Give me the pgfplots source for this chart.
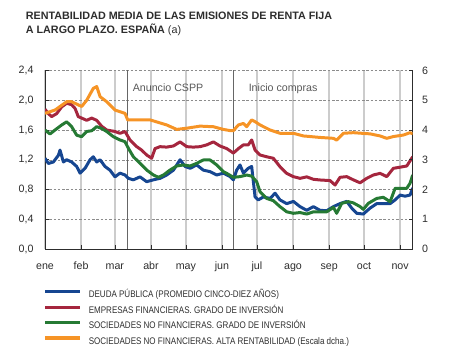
\documentclass[border=0pt]{standalone}
\usepackage{pgfplots}
\pgfplotsset{compat=1.18}
\usepackage{fontspec}
\setmainfont{Liberation Sans}
\newfontfamily\legfont[FakeStretch=0.84]{Liberation Sans}
\definecolor{cblue}{RGB}{22,70,145}
\definecolor{cred}{RGB}{165,38,62}
\definecolor{cgreen}{RGB}{38,122,52}
\definecolor{corange}{RGB}{246,148,38}
\definecolor{txt}{RGB}{45,45,45}
\begin{document}
\begin{tikzpicture}
\path[use as bounding box] (0,0) rectangle (450bp,352bp);
% title
\node[anchor=base west, inner sep=0pt, text=txt, font=\bfseries\fontsize{10.8}{13}\selectfont] at (25.7bp,332.5bp) {RENTABILIDAD MEDIA DE LAS EMISIONES DE RENTA FIJA};
\node[anchor=base west, inner sep=0pt, text=txt, font=\fontsize{10.8}{13}\selectfont] at (25.7bp,318bp) {\textbf{A LARGO PLAZO. ESPAÑA} (a)};
\pgfplotsset{
  common/.style={
    at={(45bp,103bp)}, anchor=south west, scale only axis,
    width=367.7bp, height=178.5bp,
    xmin=0, xmax=315.8,
    tick align=inside, major tick length=3.5bp,
    every tick/.style={txt, line width=0.6pt},
    axis line style={txt, line width=0.8pt},
    tick label style={font=\fontsize{10.7}{12}\selectfont, text=txt},
    /pgf/number format/assume math mode=true,
  }
}
\begin{axis}[common,
  ymin=0, ymax=2.4,
  axis x line*=bottom, axis y line*=left,
  xtick={0,31,60,91,121,152,182,213,244,274,305},
  xticklabels={ene,feb,mar,abr,may,jun,jul,ago,sep,oct,nov},
  xticklabel style={anchor=base, yshift=-20.7bp},
  ytick={0,0.4,0.8,1.2,1.6,2.0,2.4},
  yticklabel style={xshift=-8bp, /pgf/number format/.cd, use comma, fixed, fixed zerofill, precision=1},
  xmajorgrids, ymajorgrids,
  x grid style={black!20, line width=1.3pt},
  y grid style={black!45, line width=0.5pt, dash pattern=on 2.5pt off 1.8pt},
  legend style={at={(axis description cs:-0.0046,-0.225)}, anchor=north west, draw=none, fill=none,
    font=\legfont\fontsize{9.6}{10}\selectfont, text=txt, inner sep=0pt, column sep=6bp, row sep=4.0bp,
    nodes={inner sep=1pt, text height=7.5pt, text depth=2pt}},
  legend cell align=left,
  legend image code/.code={\draw[#1, line width=3.3pt] (0bp,3.4bp) -- (35bp,3.4bp);},
]
\draw[black!60, line width=0.7pt] (axis cs:71.0,0) -- (axis cs:71.0,2.4);
\draw[black!60, line width=0.7pt] (axis cs:161.8,0) -- (axis cs:161.8,2.4);
\node[text=black!65, font=\fontsize{10.7}{12}\selectfont] at (axis cs:105.7,2.165) {Anuncio CSPP};
\node[text=black!65, font=\fontsize{10.7}{12}\selectfont] at (axis cs:204.5,2.15) {Inicio compras};
\node[text=txt, font=\fontsize{10}{12}\selectfont] at (axis description cs:0.003,1.076) {\%};
\node[text=txt, font=\fontsize{10}{12}\selectfont] at (axis description cs:0.979,1.076) {\%};
\addplot[cblue, line width=3pt, line join=round] coordinates {
(0,1.22)(2.9,1.15)(7.2,1.17)(11.5,1.26)(12.9,1.33)(15.8,1.17)(18.6,1.20)(22.9,1.17)(27.2,1.11)(30.1,1.02)(34.4,1.085)(38.7,1.20)(41.5,1.24)(44.4,1.17)(47.3,1.20)(51.5,1.11)(55.8,1.06)(60.1,0.97)(64.4,1.02)(68.7,0.995)(71.6,0.95)(75.9,0.93)(81.6,0.97)(87.3,0.905)(93.1,0.93)(98.8,0.95)(104.5,0.995)(110.3,1.06)(116.0,1.20)(120.3,1.11)(124.6,1.085)(130.3,1.13)(136.0,1.06)(141.8,1.04)(147.5,0.995)(153.2,1.02)(158.9,0.975)(161.8,0.93)(164.6,1.06)(167.5,1.13)(170.4,1.02)(174.6,1.085)(177.5,1.11)(180.4,0.70)(183.2,0.66)(187.5,0.70)(193.3,0.68)(197.6,0.75)(201.8,0.66)(207.6,0.61)(213.3,0.64)(219.0,0.57)(224.8,0.52)(230.5,0.57)(236.2,0.52)(242.0,0.515)(247.7,0.57)(253.4,0.61)(259.1,0.64)(263.4,0.55)(267.7,0.48)(273.4,0.47)(279.2,0.55)(284.9,0.61)(290.6,0.61)(296.4,0.61)(300.7,0.66)(305.0,0.725)(309.2,0.71)(313.5,0.725)(315.8,0.82)
};
\addlegendentry{DEUDA PÚBLICA (PROMEDIO CINCO-DIEZ AÑOS)}
\addplot[cred, line width=3pt, line join=round] coordinates {
(0,1.88)(2.9,1.82)(5.7,1.78)(10.0,1.82)(14.3,1.91)(18.6,1.96)(22.9,1.94)(25.8,1.89)(28.6,1.78)(31.5,1.76)(35.8,1.73)(40.1,1.76)(44.4,1.73)(48.7,1.65)(53.0,1.60)(60.1,1.58)(64.4,1.555)(68.7,1.58)(73.0,1.466)(78.8,1.376)(83.0,1.33)(87.3,1.264)(91.6,1.22)(94.5,1.35)(98.8,1.376)(104.5,1.37)(110.3,1.385)(116.0,1.44)(121.7,1.376)(127.4,1.37)(133.2,1.376)(138.9,1.40)(144.6,1.44)(150.3,1.385)(156.1,1.35)(161.8,1.29)(166.1,1.35)(170.4,1.40)(174.6,1.40)(177.5,1.466)(180.4,1.33)(184.7,1.264)(190.4,1.24)(196.1,1.22)(201.8,1.107)(207.6,1.017)(213.3,0.973)(219.0,0.95)(224.8,0.97)(230.5,0.937)(236.2,0.928)(244.8,0.92)(249.1,0.86)(253.4,0.964)(259.1,0.973)(264.8,0.93)(270.6,0.89)(276.3,0.95)(282.0,0.995)(287.8,1.017)(293.5,0.973)(299.2,1.085)(305.0,1.10)(310.7,1.116)(315.8,1.24)
};
\addlegendentry{EMPRESAS FINANCIERAS. GRADO DE INVERSIÓN}
\addplot[cgreen, line width=3pt, line join=round] coordinates {
(0,1.60)(4.3,1.546)(8.6,1.60)(14.3,1.667)(18.6,1.71)(22.9,1.645)(27.2,1.53)(31.5,1.51)(35.8,1.58)(40.1,1.59)(44.4,1.645)(48.7,1.62)(53.0,1.58)(58.7,1.51)(64.4,1.466)(68.7,1.443)(71.6,1.354)(75.9,1.24)(81.6,1.152)(87.3,1.062)(93.1,0.995)(97.4,0.964)(101.7,0.995)(107.4,1.062)(113.1,1.116)(118.8,1.13)(124.6,1.116)(130.3,1.152)(136.0,1.197)(141.8,1.197)(147.5,1.13)(153.2,1.04)(156.1,1.017)(161.8,0.964)(167.5,0.973)(173.2,0.995)(177.5,0.98)(181.8,0.905)(184.7,0.77)(190.4,0.68)(196.1,0.65)(201.8,0.57)(207.6,0.50)(213.3,0.48)(219.0,0.49)(224.8,0.47)(230.5,0.50)(236.2,0.50)(242.0,0.50)(247.7,0.56)(250.5,0.48)(254.8,0.614)(260.6,0.636)(264.8,0.62)(270.6,0.57)(273.4,0.533)(277.7,0.614)(284.9,0.68)(290.6,0.695)(296.4,0.636)(300.7,0.816)(305.0,0.816)(310.7,0.816)(313.5,0.883)(315.8,0.995)
};
\addlegendentry{SOCIEDADES NO FINANCIERAS. GRADO DE INVERSIÓN}
\addlegendimage{corange}
\addlegendentry{SOCIEDADES NO FINANCIERAS. ALTA RENTABILIDAD (Escala dcha.)}
\end{axis}
\begin{axis}[common,
  ymin=0, ymax=6,
  axis x line=none, axis y line*=right,
  ytick={0,1,2,3,4,5,6},
  yticklabel style={xshift=6bp},
]
\addplot[corange, line width=3pt, line join=round] coordinates {
(0,4.56)(8.6,4.67)(18.6,4.95)(22.9,4.95)(31.5,4.79)(35.8,5.0)(41.5,5.4)(44.4,5.46)(47.3,5.12)(53.0,4.95)(60.1,4.67)(68.7,4.56)(71.0,4.34)(75.9,4.34)(90.2,4.34)(104.5,4.17)(113.1,4.02)(121.7,4.06)(133.2,4.13)(144.6,4.11)(153.2,4.02)(158.9,3.98)(161.8,3.98)(166.1,4.17)(170.4,4.22)(173.2,4.11)(177.5,4.34)(180.4,4.28)(184.7,4.17)(193.3,4.0)(201.8,3.89)(213.3,3.89)(221.9,3.80)(236.2,3.75)(247.7,3.72)(250.5,3.66)(256.3,3.89)(264.8,3.91)(279.2,3.87)(287.8,3.80)(293.5,3.72)(299.2,3.78)(307.8,3.83)(313.5,3.91)(315.8,3.87)
};
\end{axis}
\end{tikzpicture}
\end{document}
